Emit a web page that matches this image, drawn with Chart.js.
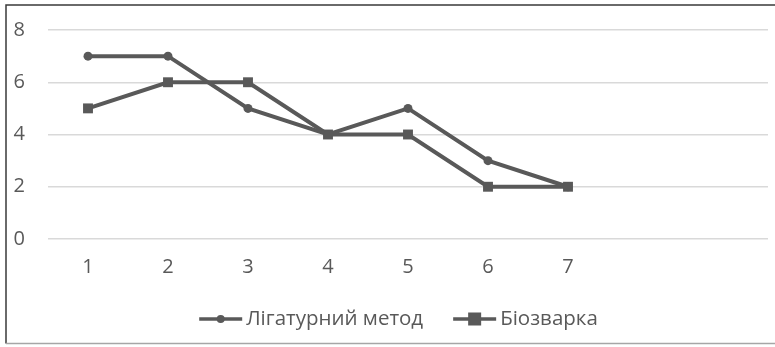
<!DOCTYPE html>
<html>
<head>
<meta charset="utf-8">
<script src="https://cdn.jsdelivr.net/npm/chart.js@4/dist/chart.umd.min.js"></script>
<style>
  html, body { margin: 0; padding: 0; background: #ffffff; }
  #wrap { position: relative; width: 775px; height: 347px; }
</style>
</head>
<body>
<div id="wrap"><canvas id="chart" width="775" height="347"></canvas></div>
<script>
// Categories along the x axis (two trailing empty slots keep the axis wide)
const categories = ['1', '2', '3', '4', '5', '6', '7', '', ''];

// Series values
const ligatureValues = [7, 7, 5, 4, 5, 3, 2];
const bioweldValues = [5, 6, 6, 4, 4, 2, 2];

// Series names
const seriesNames = ['Лігатурний метод', 'Біозварка'];

// Y axis ticks
const yTicks = [0, 2, 4, 6, 8];

const INK = '#595959';
const FONT = '"Open Sans", "Noto Sans", sans-serif';

// Frame around the chart
const framePlugin = {
  id: 'frame',
  beforeDraw(chart) {
    const ctx = chart.ctx;
    ctx.save();
    ctx.fillStyle = '#ffffff';
    ctx.fillRect(0, 0, chart.width, chart.height);
    ctx.lineWidth = 1.5;
    ctx.strokeStyle = '#3a3a3a';
    ctx.beginPath();
    ctx.moveTo(6, 343.5);
    ctx.lineTo(6, 5);
    ctx.lineTo(chart.width, 5);
    ctx.stroke();
    ctx.lineWidth = 1.5;
    ctx.strokeStyle = '#a6a6a6';
    ctx.beginPath();
    ctx.moveTo(6, 343.5);
    ctx.lineTo(chart.width, 343.5);
    ctx.stroke();
    ctx.restore();
  }
};

// Legend drawn with a line sample and the series marker
const legendPlugin = {
  id: 'lineLegend',
  afterDraw(chart) {
    const ctx = chart.ctx;
    const y = 319;
    const sampleW = 43, gap = 4, between = 30;
    ctx.save();
    ctx.font = '20.5px ' + FONT;
    ctx.textBaseline = 'middle';
    const items = chart.data.datasets.map(ds => ({
      ds, w: sampleW + gap + ctx.measureText(ds.label).width
    }));
    const total = items.reduce((a, it) => a + it.w, 0) + between * (items.length - 1);
    let x = 398.5 - total / 2;
    items.forEach(it => {
      const ds = it.ds;
      ctx.strokeStyle = ds.borderColor;
      ctx.lineWidth = 3.5;
      ctx.beginPath();
      ctx.moveTo(x, y);
      ctx.lineTo(x + sampleW, y);
      ctx.stroke();
      const cx = x + sampleW / 2;
      ctx.fillStyle = ds.pointBackgroundColor;
      if (ds.pointStyle === 'rect') {
        const s = 13;
        ctx.fillRect(cx - s / 2, y - s / 2, s, s);
      } else {
        ctx.beginPath();
        ctx.arc(cx, y, 4, 0, Math.PI * 2);
        ctx.fill();
      }
      ctx.fillStyle = INK;
      ctx.textAlign = 'left';
      ctx.fillText(ds.label, x + sampleW + gap, y);
      x += it.w + between;
    });
    ctx.restore();
  }
};

new Chart(document.getElementById('chart'), {
  type: 'line',
  data: {
    labels: categories,
    datasets: [
      {
        label: seriesNames[0],
        data: ligatureValues,
        borderColor: INK,
        backgroundColor: INK,
        pointBackgroundColor: INK,
        pointBorderColor: INK,
        borderWidth: 4,
        pointStyle: 'circle',
        pointRadius: 4.5,
        pointBorderWidth: 0,
        tension: 0
      },
      {
        label: seriesNames[1],
        data: bioweldValues,
        borderColor: INK,
        backgroundColor: INK,
        pointBackgroundColor: INK,
        pointBorderColor: INK,
        borderWidth: 4,
        pointStyle: 'rect',
        pointRadius: 7,
        pointBorderWidth: 0,
        tension: 0
      }
    ]
  },
  options: {
    responsive: false,
    maintainAspectRatio: false,
    animation: false,
    devicePixelRatio: 1,
    layout: { padding: { top: 30, right: 4, bottom: 0, left: 0 } },
    plugins: {
      legend: { display: false },
      tooltip: { enabled: false }
    },
    scales: {
      x: {
        type: 'category',
        offset: true,
        grid: { display: false, drawTicks: false },
        border: { display: false },
        ticks: {
          color: INK,
          font: { family: FONT, size: 20 },
          padding: 16,
          maxRotation: 0,
          autoSkip: false
        },
        afterFit(scale) { scale.height = 108; }
      },
      y: {
        min: 0,
        max: 8,
        afterBuildTicks(scale) { scale.ticks = yTicks.map(v => ({ value: v })); },
        grid: { color: '#d9d9d9', lineWidth: 1.5, drawTicks: false },
        border: { display: false },
        ticks: {
          color: INK,
          font: { family: FONT, size: 20 },
          padding: 23
        },
        afterFit(scale) {
          scale.width = 48;
          scale.paddingTop = 0;
          scale.paddingBottom = 0;
        }
      }
    }
  },
  plugins: [framePlugin, legendPlugin]
});
</script>
</body>
</html>
